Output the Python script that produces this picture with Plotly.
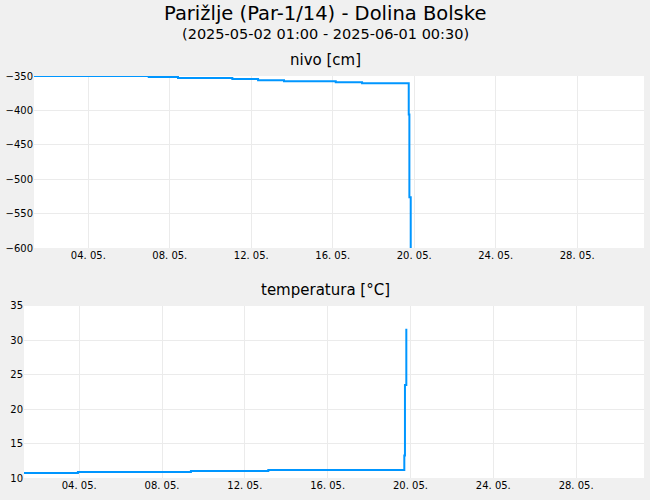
import plotly.graph_objects as go

# nivo [cm] step changes (time, value)
nivo_time = [
    "2025-05-01 08:00", "2025-05-06 23:10", "2025-05-08 09:40", "2025-05-11 01:40",
    "2025-05-12 08:00", "2025-05-13 14:35", "2025-05-16 03:30", "2025-05-17 10:30",
    "2025-05-19 17:30", "2025-05-19 18:15", "2025-05-19 19:50",
]
nivo_val = [-350.0, -351.5, -353.0, -354.4, -356.2, -357.7, -359.2, -360.6, -406.0, -526.0, -700.0]

# temperatura [°C] step changes (time, value)
temp_time = [
    "2025-05-01 08:00", "2025-05-03 22:30", "2025-05-09 09:30", "2025-05-13 03:10",
    "2025-05-19 16:50", "2025-05-19 17:35", "2025-05-19 19:10",
]
temp_val = [10.73, 10.87, 11.02, 11.16, 13.26, 23.5, 31.7]

tick_vals = ["2025-05-04", "2025-05-08", "2025-05-12", "2025-05-16",
             "2025-05-20", "2025-05-24", "2025-05-28"]
tick_text = ["04. 05.", "08. 05.", "12. 05.", "16. 05.", "20. 05.", "24. 05.", "28. 05."]

x_range = ["2025-05-01 08:00", "2025-05-31 06:40"]

title = "Parižlje (Par-1/14) - Dolina Bolske"
subtitle = "(2025-05-02 01:00 - 2025-06-01 00:30)"
title_top = "nivo [cm]"
title_bottom = "temperatura [°C]"

color = "#0096ff"
grid = "#ebebeb"
font = "DejaVu Sans"

fig = go.Figure()
fig.add_trace(go.Scatter(x=nivo_time, y=nivo_val, mode="lines", line=dict(color=color, width=2, shape="hv"),
                         xaxis="x", yaxis="y", showlegend=False, hoverinfo="x+y"))
fig.add_trace(go.Scatter(x=temp_time, y=temp_val, mode="lines", line=dict(color=color, width=2, shape="hv"),
                         xaxis="x2", yaxis="y2", showlegend=False, hoverinfo="x+y"))

axis_common = dict(showgrid=True, gridcolor=grid, gridwidth=1, zeroline=False, showline=False,
                   ticks="", automargin=False, tickfont=dict(family=font, size=10, color="#000"))

L, R, T, B = 24, 6, 76, 22
W, H = 650, 500

fig.update_layout(
    width=W, height=H,
    paper_bgcolor="#f0f0f0", plot_bgcolor="#ffffff",
    margin=dict(l=L, r=R, t=T, b=B, autoexpand=False),
    font=dict(family=font, color="#000"),
    xaxis=dict(domain=[10 / (W - L - R), 1], anchor="y", type="date", range=x_range,
               tickmode="array", tickvals=tick_vals, ticktext=tick_text, **axis_common),
    yaxis=dict(domain=[0.572, 1], anchor="x", range=[-600, -350], tickmode="linear", tick0=-600, dtick=50,
               **axis_common),
    xaxis2=dict(domain=[0, 1], anchor="y2", type="date", range=x_range,
                tickmode="array", tickvals=tick_vals, ticktext=tick_text, **axis_common),
    yaxis2=dict(domain=[0, 0.428], anchor="x2", range=[10, 35], tickmode="linear", tick0=10, dtick=5,
                **axis_common),
)

# (text, pixel y of center, size)
labels = [(title, 14, 19.5), (subtitle, 34, 14.5), (title_top, 60, 15), (title_bottom, 290, 15)]
page_center = (W / 2 - L) / (W - L - R)
for text, py, size in labels:
    fig.add_annotation(text=text, x=page_center, y=((H - B) - py) / (H - B - T),
                       xref="paper", yref="paper", showarrow=False, yanchor="middle",
                       font=dict(family=font, size=size, color="#000"))

fig.write_html("out.html", config={"displayModeBar": False},
               post_script="document.body.style.margin='0';document.body.style.background='#f0f0f0';")
